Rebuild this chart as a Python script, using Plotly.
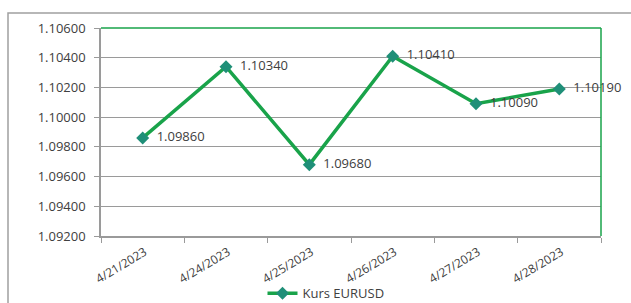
import plotly.graph_objects as go

categories = ["4/21/2023", "4/24/2023", "4/25/2023", "4/26/2023", "4/27/2023", "4/28/2023"]
values = [1.09860, 1.10340, 1.09680, 1.10410, 1.10090, 1.10190]
y_ticks = [1.092, 1.094, 1.096, 1.098, 1.100, 1.102, 1.104, 1.106]
series_name = "Kurs EURUSD"

GREEN = "#19a34a"
MARKER = "#1f8f78"
GRAY = "#9a9a9a"
TXT = "#404040"
FONT = "Open Sans, Liberation Sans, sans-serif"

fig = go.Figure()
fig.add_trace(go.Scatter(
    x=categories, y=values, name=series_name,
    mode="lines+markers+text",
    line=dict(color=GREEN, width=3.5),
    marker=dict(symbol="diamond", size=10, color=MARKER, line=dict(width=0)),
    texttemplate="  %{y:.5f}",
    textposition="middle right",
    textfont=dict(family=FONT, size=13, color=TXT),
    cliponaxis=False,
))

fig.update_layout(
    width=631, height=303,
    margin=dict(l=101, r=30, t=28, b=67, autoexpand=False),
    paper_bgcolor="white", plot_bgcolor="white",
    font=dict(family=FONT, color=TXT),
    showlegend=True,
    legend=dict(orientation="h", x=0.45, xanchor="center", y=-0.275, yanchor="middle",
                font=dict(size=13, color=TXT), bgcolor="rgba(0,0,0,0)"),
    xaxis=dict(type="category", range=[-0.5, len(categories) - 0.5],
               showgrid=False, showline=True, linecolor=GRAY, linewidth=1.5,
               ticks="outside", tickson="boundaries", ticklen=5, tickcolor=GRAY,
               tickangle=-31, tickfont=dict(size=12, color=TXT), fixedrange=True,
               ticklabelstandoff=3, ticklabelshift=2,
               automargin=False),
    yaxis=dict(range=[1.092, 1.106], tickvals=y_ticks, tickformat=".5f",
               showgrid=True, gridcolor=GRAY, gridwidth=1.2,
               showline=True, linecolor=GRAY, linewidth=1.5,
               ticks="outside", ticklen=5, tickcolor=GRAY, ticklabelstandoff=6,
               tickfont=dict(size=13, color=TXT), zeroline=False, fixedrange=True,
               automargin=False),
    shapes=[
        dict(type="rect", xref="paper", yref="paper", x0=-0.186, x1=1.2, y0=-0.5, y1=1.072,
             line=dict(color="#a0a0a0", width=1.5), layer="below"),
        dict(type="line", xref="paper", yref="paper", x0=0, x1=1, y0=1, y1=1,
             line=dict(color=GREEN, width=1.5)),
        dict(type="line", xref="paper", yref="paper", x0=1, x1=1, y0=0, y1=1,
             line=dict(color=GREEN, width=1.5)),
    ],
)

fig.write_html("out.html", config={"displayModeBar": False},
               post_script="document.body.style.margin='0';document.body.style.overflow='hidden';")
